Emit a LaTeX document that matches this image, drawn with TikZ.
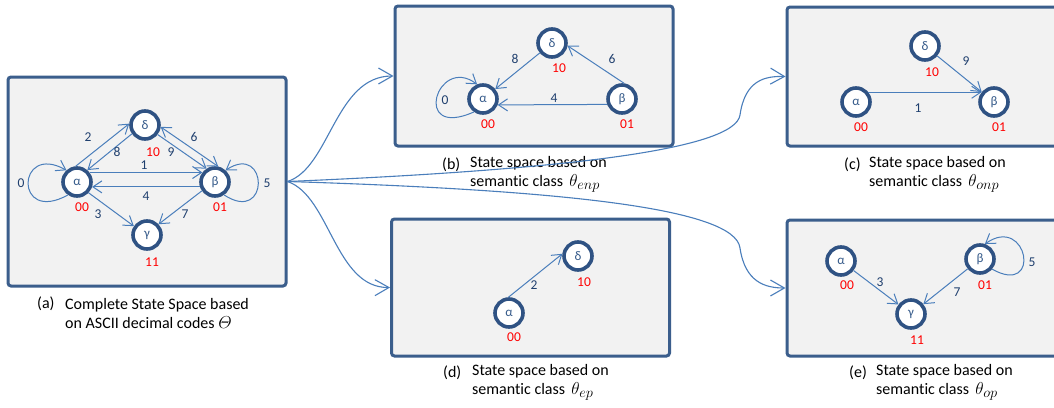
\documentclass[tikz,border=0pt]{standalone}
\usepackage{amsmath}
\usepackage{fontspec}
\setmainfont{Carlito}[Ligatures={NoCommon}]
\usetikzlibrary{arrows.meta}

\definecolor{boxline}{HTML}{3B5E8C}
\definecolor{boxfill}{HTML}{F2F2F2}
\definecolor{ringline}{HTML}{2F5283}
\definecolor{letter}{HTML}{355A8A}
\definecolor{edgeline}{HTML}{4A7EBB}
\definecolor{numtext}{HTML}{1F3F6E}
\definecolor{codered}{HTML}{FF0000}

% class symbol with a large subscript
\newcommand{\classsym}[1]{{\fontsize{17}{17}\selectfont$\theta_{\text{\fontsize{14}{14}\selectfont$#1$}}$}}

\tikzset{
  panel/.style={draw=boxline, fill=boxfill, line width=3pt, rounded corners=3pt,
    minimum width=278pt, inner sep=0pt},
  state/.style={circle, draw=ringline, fill=white, line width=3.6pt,
    minimum size=28pt, inner sep=0pt, text=letter, font=\fontsize{13}{13}\selectfont},
  code/.style={text=codered, font=\fontsize{13.5}{13.5}\selectfont, inner sep=0pt},
  num/.style={text=numtext, font=\fontsize{13.5}{13.5}\selectfont, inner sep=0pt},
  tip/.style={Straight Barb[length=9pt,width=12pt]},
  trans/.style={draw=edgeline, line width=1pt, -{Straight Barb[length=9pt,width=12pt]}},
  both/.style={draw=edgeline, line width=1pt, {Straight Barb[length=9pt,width=12pt]}-{Straight Barb[length=9pt,width=12pt]}},
  link/.style={draw=edgeline, line width=1.1pt, -{Straight Barb[length=14pt,width=16pt]}},
  tag/.style={anchor=west, inner sep=0pt, font=\fontsize{16}{19}\selectfont},
  captext/.style={anchor=west, inner sep=0pt, align=left, font=\fontsize{16}{19}\selectfont},
}

\begin{document}
\begin{tikzpicture}[x=1pt, y=1pt]
\clip (0,0) rectangle (1054,-407);
\fill[white] (0,0) rectangle (1054,-407);

% ---- panels ----
\node[panel, minimum height=209pt] (A) at (147,-181.5) {};
\node[panel, minimum height=140pt] (B) at (534,-76) {};
\node[panel, minimum height=139pt] (C) at (926,-76.5) {};
\node[panel, minimum height=137pt] (D) at (530.5,-287.5) {};
\node[panel, minimum height=136pt] (E) at (926,-288) {};

% ---- (a) complete state space ----
\node[state] (aa) at (77,-182) {α};
\node[state] (ab) at (215,-182) {β};
\node[state] (ad) at (145,-125) {δ};
\node[state] (ag) at (147,-235) {γ};
\node[code] (aca) at (82,-207) {00};
\node[code] (acb) at (220,-207) {01};
\node[code] (acd) at (153,-152) {10};
\node[code] (acg) at (152,-262) {11};

\draw[trans] (aa.95) -- (ad.175);
\draw[trans] (ad.214) -- (aa.49);
\draw[trans] (aa.37) -- (ab.143);
\draw[trans] (ab.198) -- (aa.-18);
\draw[trans] (ad.-37) -- (ab.122);
\draw[both] (ad.-7) -- (ab.78);
\draw[trans] (aa.-43) -- (ag.146);
\draw[trans] (ab.214) -- (ag.43);
\draw[trans] (aa.235) .. controls +(-54,-30) and +(-50,28) .. (aa.132);
\draw[trans] (ab.-55) .. controls +(46,-30) and +(43,28) .. (ab.48);

\node[num] (a0) at (21,-183) {0};
\node[num] (a2) at (88,-137) {2};
\node[num] (a8) at (117,-152) {8};
\node[num] (a1) at (144,-165) {1};
\node[num] (a9) at (171,-152) {9};
\node[num] (a6) at (194,-137) {6};
\node[num] (a4) at (146,-196) {4};
\node[num] (a5) at (267,-183) {5};
\node[num] (a3) at (98,-214) {3};
\node[num] (a7) at (185,-214) {7};

% ---- (b) theta_enp ----
\node[state] (ba) at (483,-99) {α};
\node[state] (bb) at (622,-99) {β};
\node[state] (bd) at (552,-43) {δ};
\node[code] (bca) at (488,-124) {00};
\node[code] (bcb) at (627,-124) {01};
\node[code] (bcd) at (559,-68) {10};
\draw[trans] (bd) -- (ba);
\draw[trans] (bb.82) -- (bd.-10);
\draw[trans] (bb.200) -- (ba.-22);
\draw[trans] (ba.235) .. controls +(-63,-28) and +(-40,30) .. (ba.112);
\node[num] (b0) at (445,-100) {0};
\node[num] (b8) at (515,-59) {8};
\node[num] (b6) at (612,-59) {6};
\node[num] (b4) at (554,-98) {4};

% ---- (c) theta_onp ----
\node[state] (ca) at (856,-102) {α};
\node[state] (cb) at (994,-102) {β};
\node[state] (cd) at (925,-46) {δ};
\node[code] (cca) at (861,-127) {00};
\node[code] (ccb) at (999,-127) {01};
\node[code] (ccd) at (932,-72) {10};
\draw[trans] (ca.38) -- (cb.142);
\draw[trans] (cd) -- (cb);
\node[num] (c9) at (966,-61) {9};
\node[num] (c1) at (918,-108) {1};

% ---- (d) theta_ep ----
\node[state] (da) at (509,-313) {α};
\node[state] (dd) at (578,-256) {δ};
\node[code] (dca) at (514,-337) {00};
\node[code] (dcd) at (584,-282) {10};
\draw[trans] (da.92) -- (dd.172);
\node[num] (d2) at (534,-285) {2};

% ---- (e) theta_op ----
\node[state] (ea) at (841,-261) {α};
\node[state] (eb) at (980,-259) {β};
\node[state] (eg) at (911,-314) {γ};
\node[code] (eca) at (847,-285) {00};
\node[code] (ecb) at (985,-285) {01};
\node[code] (ecg) at (917,-340) {11};
\draw[trans] (ea) -- (eg);
\draw[trans] (eb) -- (eg);
\draw[trans] (eb.-40) .. controls +(50,-28) and +(43,30) .. (eb.72);
\node[num] (e3) at (880,-282) {3};
\node[num] (e7) at (957,-292) {7};
\node[num] (e5) at (1032,-262) {5};

% ---- captions ----
\node[tag] (ta) at (37,-304) {(a)};
\node[captext] (xa) at (65,-313.5) {Complete State Space based\\on ASCII decimal codes {\fontsize{17}{17}\selectfont$\varTheta$}};
\node[tag] (tb) at (442,-165) {(b)};
\node[captext] (xb) at (470,-174.5) {State space based on\\semantic class\, \classsym{enp}};
\node[tag] (tc) at (844,-165) {(c)};
\node[captext] (xc) at (869,-174.5) {State space based on\\semantic class\, \classsym{onp}};
\node[tag] (td) at (443,-373) {(d)};
\node[captext] (xd) at (472,-382.5) {State space based on\\semantic class\, \classsym{ep}};
\node[tag] (te) at (849,-373) {(e)};
\node[captext] (xe) at (876,-382.5) {State space based on\\semantic class\, \classsym{op}};

% ---- links from the complete space to the class spaces ----
\draw[link] (A.east) .. controls (330,-168) and (335,-76) .. (B.west);
\draw[link] (A.east) .. controls (330,-196) and (335,-288) .. (D.west);
\draw[link] (A.east) .. controls (560,-170) and (735,-150) .. (740,-115)
               .. controls (745,-80) and (765,-76) .. (C.west);
\draw[link] (A.east) .. controls (560,-190) and (735,-208) .. (740,-248)
               .. controls (745,-282) and (765,-288) .. (E.west);
\end{tikzpicture}
\end{document}
